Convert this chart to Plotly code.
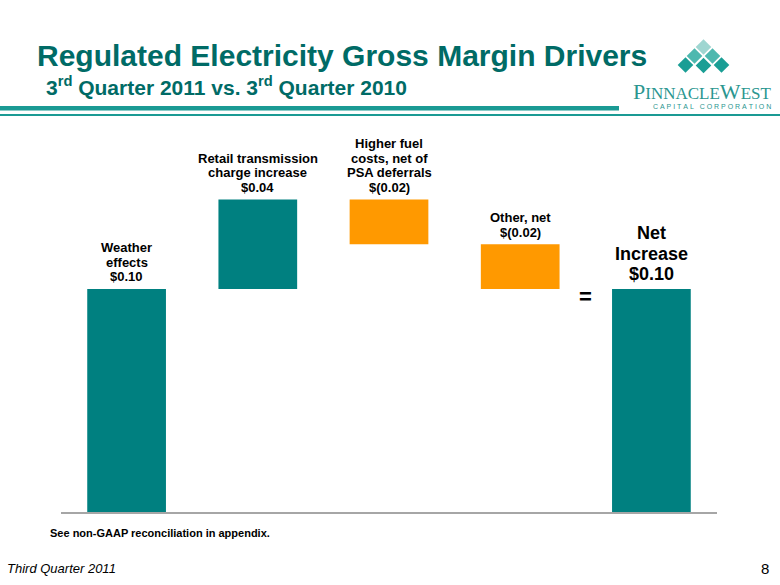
import plotly.graph_objects as go

# ---------------- data ----------------
categories = ["Weather effects", "Retail transmission charge increase",
              "Higher fuel costs, net of PSA deferrals", "Other, net", "Net Increase"]
values = [0.10, 0.04, -0.02, -0.02, 0.10]
measures = ["relative", "relative", "relative", "relative", "total"]
label_lines = [["Weather", "effects"],
               ["Retail transmission", "charge increase"],
               ["Higher fuel", "costs, net of", "PSA deferrals"],
               ["Other, net"],
               ["Net", "Increase"]]
value_labels = ["$0.10", "$0.04", "$(0.02)", "$(0.02)", "$0.10"]

TEAL = "#008080"
ORANGE = "#FF9900"
TITLE_C = "#006B66"
LOGO_C = "#2A9690"
W, H = 780, 585


def px(x):
    return x / W


def py(y):
    return 1 - y / H


fig = go.Figure(go.Waterfall(
    x=categories, y=values, measure=measures,
    increasing=dict(marker=dict(color=TEAL)),
    decreasing=dict(marker=dict(color=ORANGE)),
    totals=dict(marker=dict(color=TEAL)),
    connector=dict(visible=False),
    textinfo="none", hoverinfo="skip",
))

# bar tops for label placement
running = 0.0
tops = []
for v, m in zip(values, measures):
    if m == "total":
        tops.append(running)
    else:
        start = running
        running += v
        tops.append(max(start, running))

annotations = []
for i, (cat, lines, val) in enumerate(zip(categories, label_lines, value_labels)):
    all_lines = lines + [val]
    n = len(all_lines)
    big = (measures[i] == "total")
    size = 18 if big else 13
    gap = 15 if big else 12
    step = 20.3 if big else 14.7
    for j, line in enumerate(all_lines):
        annotations.append(dict(
            x=cat, y=tops[i], xref="x", yref="y", text="<b>%s</b>" % line,
            showarrow=False, yanchor="middle", xanchor="center",
            yshift=gap + step * (n - 1 - j), borderpad=0,
            font=dict(family="Liberation Sans, Arial", size=size, color="black")))

# "=" sign between Other and Net
annotations.append(dict(x=3.5, y=tops[4], xref="x", yref="y", text="<b>=</b>",
                        showarrow=False, yanchor="middle", yshift=-8,
                        font=dict(family="Liberation Sans, Arial", size=22, color="black")))

# titles
annotations.append(dict(x=px(35), y=py(55), xref="paper", yref="paper", xanchor="left", yanchor="middle",
                        text="<b>Regulated Electricity Gross Margin Drivers</b>", showarrow=False,
                        font=dict(family="Liberation Sans, Arial", size=30, color=TITLE_C)))
annotations.append(dict(x=px(44), y=py(86), xref="paper", yref="paper", xanchor="left", yanchor="middle",
                        text="<b>3<sup>rd</sup> Quarter 2011 vs. 3<sup>rd</sup> Quarter 2010</b>", showarrow=False,
                        font=dict(family="Liberation Sans, Arial", size=21, color=TITLE_C)))

# logo text
annotations.append(dict(x=px(773), y=py(91), xref="paper", yref="paper", xanchor="right", yanchor="middle",
                        text="P<span style='font-size:17px'>INNACLE</span>W<span style='font-size:17px'>EST</span>",
                        showarrow=False,
                        font=dict(family="Liberation Serif, Times New Roman", size=22, color=LOGO_C)))
annotations.append(dict(x=px(773), y=py(106), xref="paper", yref="paper", xanchor="right", yanchor="middle",
                        text="\u00a0".join("CAPITAL") + "\u00a0\u00a0\u00a0" + "\u00a0".join("CORPORATION"),
                        showarrow=False,
                        font=dict(family="Liberation Sans, Arial", size=7, color=LOGO_C)))

# footer texts
annotations.append(dict(x=px(48), y=py(533), xref="paper", yref="paper", xanchor="left", yanchor="middle",
                        text="<b>See non-GAAP reconciliation in appendix.</b>", showarrow=False,
                        font=dict(family="Liberation Sans, Arial", size=11, color="black")))
annotations.append(dict(x=px(5), y=py(568), xref="paper", yref="paper", xanchor="left", yanchor="middle",
                        text="<i>Third Quarter 2011</i>", showarrow=False,
                        font=dict(family="Liberation Sans, Arial", size=13, color="black")))
annotations.append(dict(x=px(771), y=py(568), xref="paper", yref="paper", xanchor="right", yanchor="middle",
                        text="8", showarrow=False,
                        font=dict(family="Liberation Sans, Arial", size=15, color="black")))

# decorative shapes: header lines and logo diamonds
shapes = [
    dict(type="rect", xref="paper", yref="paper", x0=px(0), x1=px(619), y0=py(110.5), y1=py(106),
         fillcolor="#1A9A94", line=dict(width=0)),
    dict(type="rect", xref="paper", yref="paper", x0=px(0), x1=px(780), y0=py(116), y1=py(114),
         fillcolor="#1A9A94", line=dict(width=0)),
]
diamonds = [(703.5, 47, "#9ED6D1"),
            (694.5, 56, "#4DB8AF"), (712.5, 56, "#4DB8AF"),
            (685.5, 65, "#1A9E95"), (703.5, 65.5, "#1A9E95"), (721.5, 65, "#1A9E95")]
hw = 7.8
for cx, cy, col in diamonds:
    path = "M %f %f L %f %f L %f %f L %f %f Z" % (
        px(cx), py(cy - hw), px(cx + hw), py(cy), px(cx), py(cy + hw), px(cx - hw), py(cy))
    shapes.append(dict(type="path", xref="paper", yref="paper", path=path,
                       fillcolor=col, line=dict(width=0)))

fig.update_layout(
    width=W, height=H,
    margin=dict(l=0, r=0, t=0, b=0),
    paper_bgcolor="white", plot_bgcolor="white",
    showlegend=False,
    waterfallgap=0.4,
    xaxis=dict(domain=[px(61), px(717)], showticklabels=False, ticks="", showgrid=False,
               showline=True, linecolor="#A6A6A6", linewidth=2, zeroline=False, fixedrange=True),
    yaxis=dict(domain=[py(512), py(155)], range=[0, 0.16], visible=False, fixedrange=True),
    annotations=annotations,
    shapes=shapes,
)

fig.write_html("out.html", config={"displayModeBar": False},
               post_script="document.body.style.margin='0';document.body.style.overflow='hidden';")
